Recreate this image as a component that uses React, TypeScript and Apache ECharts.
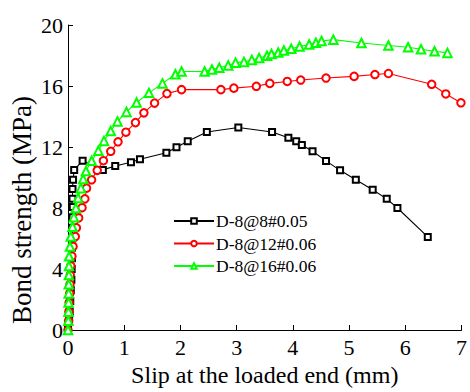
import React, { useEffect, useRef } from "react";
import * as echarts from "echarts";

const seriesNames = ["D-8@8#0.05", "D-8@12#0.06", "D-8@16#0.06"];

const blackSlip = [0, 0.02, 0.03, 0.04, 0.05, 0.06, 0.065, 0.07, 0.07, 0.075, 0.08, 0.08, 0.085, 0.08, 0.08, 0.09, 0.11, 0.26, 0.62, 0.84, 1.12, 1.28, 1.75, 1.93, 2.13, 2.47, 3.03, 3.63, 3.92, 4.06, 4.16, 4.35, 4.59, 4.84, 5.12, 5.42, 5.67, 5.86, 6.4];
const blackStress = [0, 0.6, 1.2, 1.9, 2.6, 3.3, 4.0, 4.7, 5.4, 6.0, 6.7, 7.4, 8.06, 8.6, 9.25, 9.85, 10.5, 11.1, 10.5, 10.75, 11.0, 11.2, 11.62, 11.98, 12.38, 12.98, 13.28, 12.98, 12.6, 12.37, 12.13, 11.72, 11.09, 10.47, 9.85, 9.2, 8.6, 8.0, 6.1];

const redSlip = [0, 0.01, 0.015, 0.02, 0.03, 0.035, 0.04, 0.05, 0.07, 0.09, 0.13, 0.15, 0.19, 0.25, 0.3, 0.33, 0.42, 0.52, 0.63, 0.76, 0.89, 1.03, 1.2, 1.35, 1.54, 1.76, 2.02, 2.72, 2.95, 3.35, 3.59, 3.9, 4.14, 4.59, 5.09, 5.46, 5.7, 6.47, 6.72, 6.99];
const redStress = [0, 0.6, 1.2, 1.8, 2.4, 3.0, 3.6, 4.2, 4.84, 5.48, 6.13, 6.7, 7.35, 8.02, 8.6, 9.3, 9.85, 10.47, 11.1, 11.72, 12.34, 12.97, 13.6, 14.24, 14.88, 15.5, 15.76, 15.76, 15.86, 15.98, 16.17, 16.3, 16.39, 16.52, 16.63, 16.75, 16.82, 16.11, 15.48, 14.9];

const greenSlip = [0, 0.005, 0.008, 0.01, 0.012, 0.014, 0.016, 0.018, 0.02, 0.035, 0.05, 0.08, 0.105, 0.14, 0.18, 0.23, 0.27, 0.32, 0.42, 0.54, 0.64, 0.76, 0.88, 1.04, 1.22, 1.44, 1.68, 1.91, 2.02, 2.43, 2.56, 2.69, 2.85, 2.98, 3.13, 3.27, 3.4, 3.54, 3.62, 3.74, 3.84, 3.97, 4.12, 4.29, 4.41, 4.51, 4.72, 5.22, 5.7, 6.05, 6.28, 6.52, 6.75];
const greenStress = [0, 0.6, 1.2, 1.8, 2.4, 3.0, 3.6, 4.2, 4.84, 5.48, 6.13, 6.77, 7.4, 8.0, 8.65, 9.3, 9.9, 10.43, 11.1, 11.76, 12.4, 13.05, 13.68, 14.3, 14.92, 15.55, 16.17, 16.77, 16.95, 16.95, 17.08, 17.2, 17.35, 17.53, 17.58, 17.71, 17.84, 17.98, 18.1, 18.19, 18.33, 18.44, 18.59, 18.72, 18.83, 18.95, 19.04, 18.82, 18.66, 18.54, 18.41, 18.28, 18.17];

const xTicks = [0, 1, 2, 3, 4, 5, 6, 7];
const yTicks = [0, 4, 8, 12, 16, 20];

const FONT = "Liberation Serif";

function pairs(xs: number[], ys: number[]) {
  return xs.map((x, i) => [x, ys[i]]);
}

export default function App() {
  const ref = useRef<HTMLDivElement>(null);
  useEffect(() => {
    if (!ref.current) return;
    const chart = echarts.init(ref.current, undefined, { renderer: "svg" });
    const mk = (name: string, data: number[][], color: string, symbol: string, size: number) => ({
      name,
      type: "line",
      data,
      symbol,
      symbolSize: size,
      showSymbol: true,
      lineStyle: { color, width: 1.1 },
      itemStyle: { color, borderColor: color, borderWidth: 1.1 },
      emphasis: { disabled: true },
      z: 2,
    });
    chart.setOption({
      animation: false,
      backgroundColor: "#ffffff",
      grid: { left: 68, right: 4, top: 25, bottom: 57 },
      legend: {
        orient: "vertical",
        left: 168,
        top: 207,
        itemWidth: 40,
        itemHeight: 7,
        itemGap: 4.5,
        data: seriesNames,
        textStyle: { fontFamily: FONT, fontSize: 17.5, color: "#000", padding: [0, 0, 0, -3] },
      },
      xAxis: {
        type: "value",
        min: xTicks[0],
        max: xTicks[xTicks.length - 1],
        interval: 1,
        name: "Slip at the loaded end (mm)",
        nameLocation: "middle",
        nameGap: 33,
        nameTextStyle: { fontFamily: FONT, fontSize: 24, color: "#000" },
        axisLine: { show: true, lineStyle: { color: "#000", width: 1 } },
        axisTick: { show: true, inside: true, length: 5, lineStyle: { color: "#000" } },
        axisLabel: { fontFamily: FONT, fontSize: 22, color: "#000", margin: 6 },
        splitLine: { show: false },
      },
      yAxis: {
        type: "value",
        min: yTicks[0],
        max: yTicks[yTicks.length - 1],
        interval: 4,
        axisLine: { show: true, lineStyle: { color: "#000", width: 1 } },
        axisTick: { show: true, inside: true, length: 5, lineStyle: { color: "#000" } },
        axisLabel: { fontFamily: FONT, fontSize: 22, color: "#000", margin: 5 },
        splitLine: { show: false },
      },
      graphic: [
        {
          type: "text",
          x: 22,
          y: 210,
          rotation: Math.PI / 2,
          style: {
            text: "Bond strength (MPa)",
            fontFamily: FONT,
            fontSize: 27,
            fill: "#000",
            align: "center",
            verticalAlign: "middle",
          },
        },
      ],
      series: [
        mk(seriesNames[0], pairs(blackSlip, blackStress), "#000000", "emptyRect", 6),
        mk(seriesNames[1], pairs(redSlip, redStress), "#ff0000", "emptyCircle", 7.5),
        mk(seriesNames[2], pairs(greenSlip, greenStress), "#00ff00", "emptyTriangle", 8.5),
      ],
    });
    return () => chart.dispose();
  }, []);
  return <div ref={ref} style={{ position: "fixed", left: 0, top: 0, width: 470, height: 392 }} />;
}
